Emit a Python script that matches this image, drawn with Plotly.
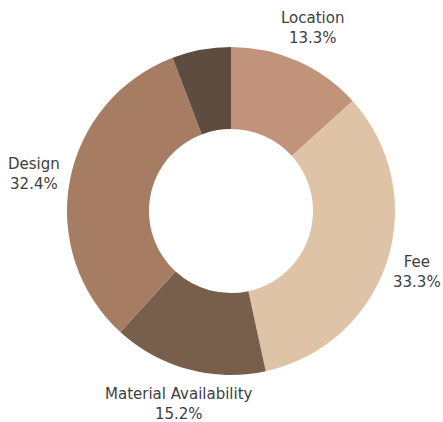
import math
import plotly.graph_objects as go

labels = ["Location", "Fee", "Material Availability", "Design", "Other"]
values = [13.3, 33.3, 15.2, 32.4, 5.8]
show_label = [True, True, True, True, False]
colors = ["#C0937A", "#DEC3A6", "#785F4B", "#A67C63", "#5F4C41"]

W, H = 443, 422
L, R, T, B = 67, 48, 47, 47
pw, ph = W - L - R, H - T - B
radius = min(pw, ph) / 2
label_r = radius * 1.22
FS = 15

fig = go.Figure(go.Pie(
    labels=labels,
    values=values,
    hole=0.5,
    sort=False,
    direction="clockwise",
    rotation=0,
    marker=dict(colors=colors, line=dict(width=0)),
    textinfo="none",
    hoverinfo="label+percent",
    showlegend=False,
))

total = sum(values)
cum = 0.0
annotations = []
for lab, v, show in zip(labels, values, show_label):
    mid = (cum + v / 2) / total * 2 * math.pi
    cum += v
    if not show:
        continue
    pct = f"{v / total * 100:.1f}%"
    cx = L + pw / 2 + label_r * math.sin(mid)
    cy = T + ph / 2 - label_r * math.cos(mid)
    half = 0.62 * FS * max(len(lab), len(pct)) / 2
    cx = min(max(cx, half + 3), W - half - 3)
    annotations.append(dict(
        x=(cx - L) / pw, y=1 - (cy - T) / ph,
        xref="paper", yref="paper",
        text=f"{lab}<br>{pct}",
        showarrow=False, xanchor="center", yanchor="middle",
        font=dict(family="DejaVu Sans", size=FS, color="#404040"),
    ))

fig.update_layout(
    width=W, height=H,
    margin=dict(l=L, r=R, t=T, b=B),
    paper_bgcolor="white",
    annotations=annotations,
)
fig.write_html("out.html")
